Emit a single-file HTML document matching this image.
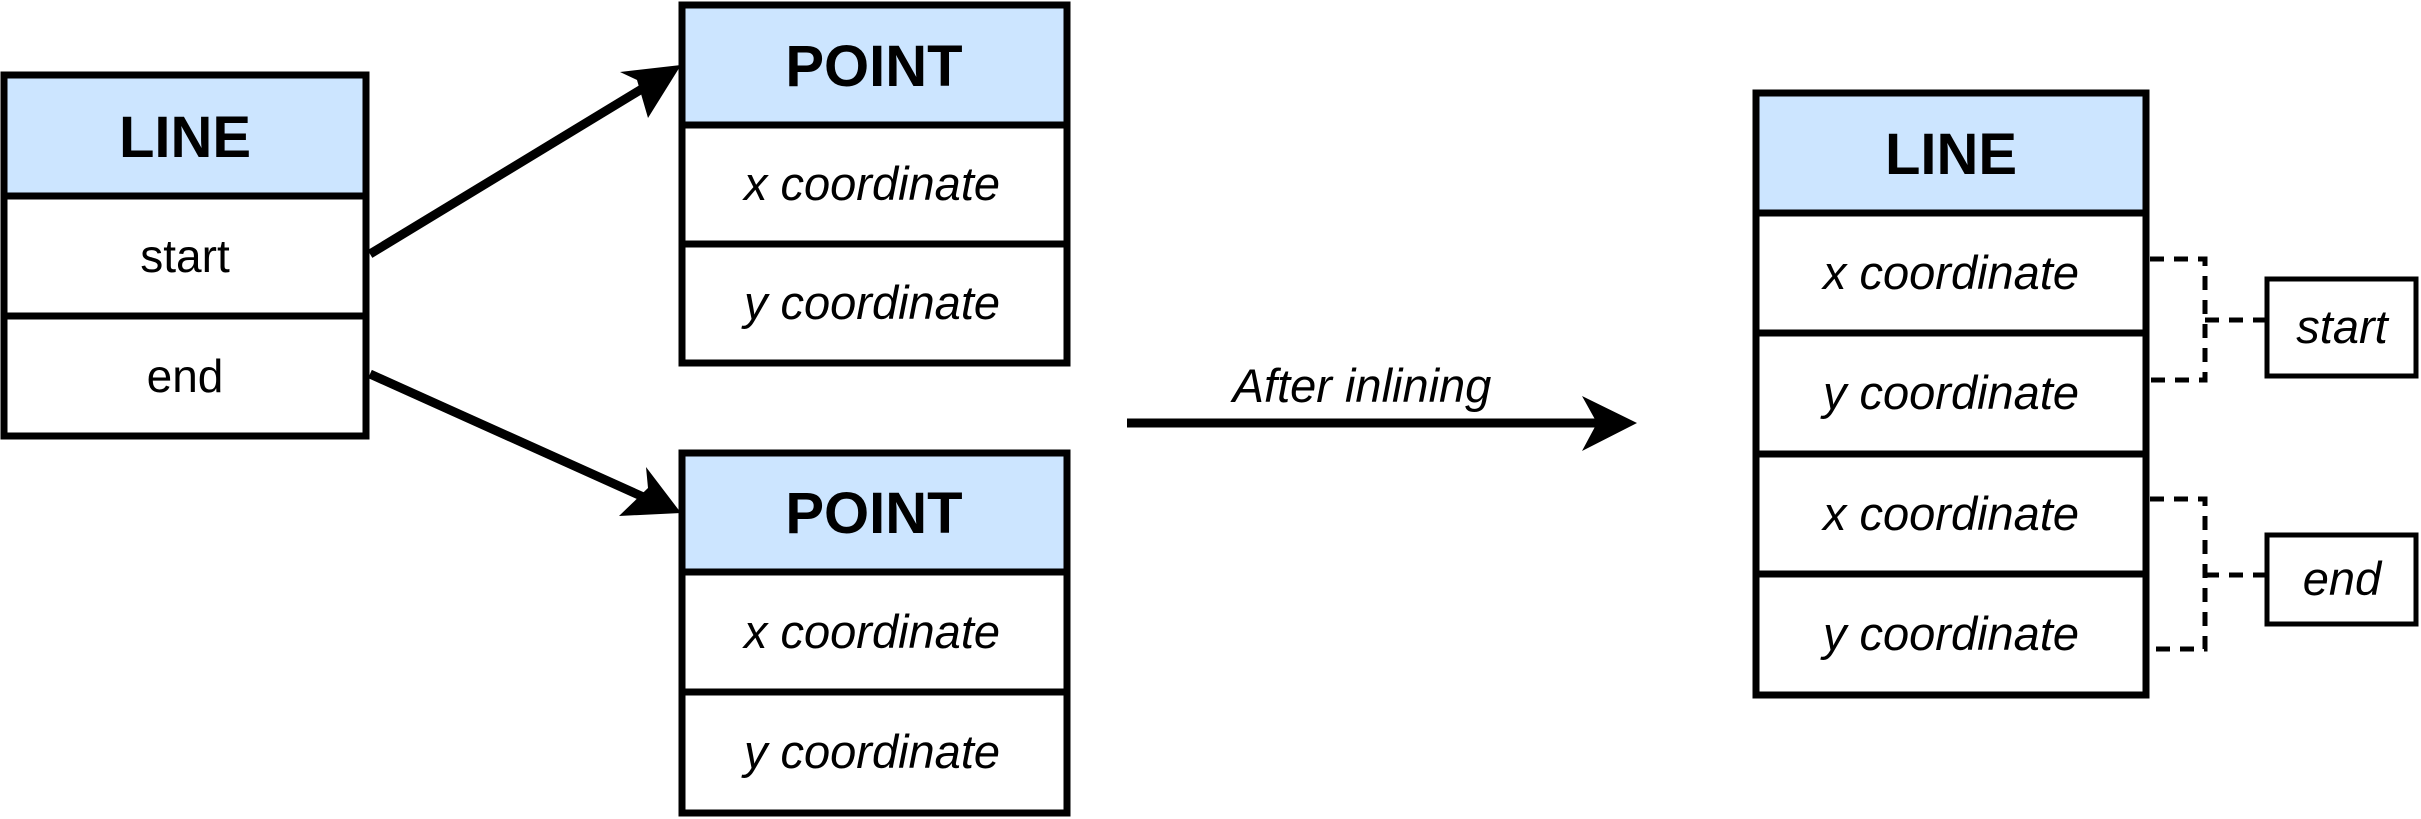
<!DOCTYPE html>
<html><head><style>html,body{margin:0;padding:0;background:#fff}svg{display:block}</style></head>
<body>
<svg width="2421" height="819" viewBox="0 0 2421 819" xmlns="http://www.w3.org/2000/svg" font-family="Liberation Sans, sans-serif">
<rect width="2421" height="819" fill="#fff"/>
<g stroke="#000" stroke-width="7" fill="#fff">
  <rect x="4" y="75" width="362" height="121" fill="#cce5ff"/>
  <rect x="4" y="196" width="362" height="120"/>
  <rect x="4" y="316" width="362" height="120"/>
  <rect x="682" y="5" width="385" height="120" fill="#cce5ff"/>
  <rect x="682" y="125" width="385" height="119"/>
  <rect x="682" y="244" width="385" height="119"/>
  <rect x="682" y="453" width="385" height="119" fill="#cce5ff"/>
  <rect x="682" y="572" width="385" height="120"/>
  <rect x="682" y="692" width="385" height="121"/>
  <rect x="1756" y="93" width="390" height="120" fill="#cce5ff"/>
  <rect x="1756" y="213" width="390" height="120"/>
  <rect x="1756" y="333" width="390" height="121"/>
  <rect x="1756" y="454" width="390" height="120"/>
  <rect x="1756" y="574" width="390" height="121"/>
</g>
<g stroke="#000" stroke-width="5" fill="#fff">
  <rect x="2267" y="279" width="149" height="97"/>
  <rect x="2267" y="535" width="149" height="89"/>
</g>
<g stroke="#000" stroke-width="9" fill="none">
  <line x1="370" y1="254" x2="650" y2="84"/>
  <line x1="370" y1="374" x2="650" y2="500"/>
  <line x1="1127" y1="423" x2="1600" y2="423"/>
</g>
<g fill="#000">
  <polygon points="681,65 620,72 637,80 648,118"/>
  <polygon points="681,513 646,467 648,488 619,516"/>
  <polygon points="1637,423 1582,396 1597,423 1582,451"/>
</g>
<g stroke="#000" stroke-width="5" fill="none" stroke-dasharray="14,10">
  <polyline points="2150,259 2205,259 2205,380 2150,380"/>
  <line x1="2205" y1="320" x2="2267" y2="320"/>
  <polyline points="2150,499 2205,499 2205,649 2150,649"/>
  <line x1="2205" y1="575" x2="2267" y2="575"/>
</g>
<g text-anchor="middle" fill="#000">
  <g font-weight="bold" font-size="58">
    <text x="185" y="157">LINE</text>
    <text x="874" y="86">POINT</text>
    <text x="874" y="533">POINT</text>
    <text x="1951" y="174">LINE</text>
  </g>
  <g font-size="46">
    <text x="185" y="272">start</text>
    <text x="185" y="392">end</text>
  </g>
  <g font-size="47" font-style="italic">
    <text x="872" y="200">x coordinate</text>
    <text x="872" y="319">y coordinate</text>
    <text x="872" y="648">x coordinate</text>
    <text x="872" y="768">y coordinate</text>
    <text x="1951" y="289">x coordinate</text>
    <text x="1951" y="409">y coordinate</text>
    <text x="1951" y="530">x coordinate</text>
    <text x="1951" y="650">y coordinate</text>
    <text x="1362" y="402">After inlining</text>
    <text x="2342" y="343">start</text>
    <text x="2342" y="595">end</text>
  </g>
</g>
</svg>
</body></html>
